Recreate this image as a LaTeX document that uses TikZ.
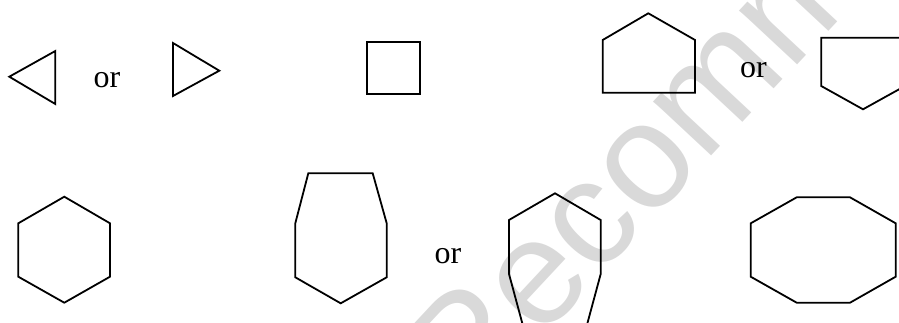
\documentclass[tikz,border=0pt]{standalone}
\usepackage{fontspec}
\setmainfont{Liberation Serif}
\newfontfamily\wmfont{Liberation Sans}
\begin{document}
\begin{tikzpicture}[x=1pt,y=-1pt,
  poly/.style={draw=black,line width=1.8pt,line join=miter},
  ortext/.style={anchor=base west,inner sep=0pt,font=\fontsize{32}{32}\selectfont},
  wmark/.style={anchor=base west,inner sep=0pt,text=black!15,rotate=47,font=\wmfont\fontsize{150}{150}\selectfont}]
\useasboundingbox (0,0) rectangle (899,322);
\clip (0,0) rectangle (899,322);
% watermark
\node[wmark] (wm) at (466,420) {Recommended};
% row 1
\draw[poly] (9.3,76.7) -- (55.3,51) -- (55.3,104) -- cycle;
\node[ortext] (or1) at (93.5,87.7) {or};
\draw[poly] (173,43) -- (219.3,70.7) -- (173,96) -- cycle;
\draw[poly] (367,42) rectangle (420,94.3);
\draw[poly] (648.3,13.3) -- (695,40) -- (695,92.7) -- (602.7,92.7) -- (602.7,40) -- cycle;
\node[ortext] (or3) at (740,77.3) {or};
\draw[poly] (821.2,37.7) -- (905,37.7) -- (905,86) -- (863,109.3) -- (821.2,86) -- cycle;
% row 2
\draw[poly] (64.3,196.7) -- (110,223.3) -- (110,276.7) -- (64.3,302.7) -- (18.3,276.7) -- (18.3,223.3) -- cycle;
\draw[poly] (308.3,173.3) -- (372.7,173.3) -- (386.7,223.3) -- (386.7,277.3) -- (340.7,303.3) -- (295.3,277.3) -- (295.3,223.3) -- cycle;
\node[ortext] (or2) at (434.5,263.3) {or};
\draw[poly] (555,193.3) -- (600.7,220) -- (600.7,274) -- (587.2,324) -- (522.5,324) -- (509,274) -- (509,220) -- cycle;
\draw[poly] (796.7,197.3) -- (850,197.3) -- (895.7,223.3) -- (895.7,276.7) -- (850,302.7) -- (796.7,302.7) -- (750.7,276.7) -- (750.7,223.3) -- cycle;
\end{tikzpicture}
\end{document}
